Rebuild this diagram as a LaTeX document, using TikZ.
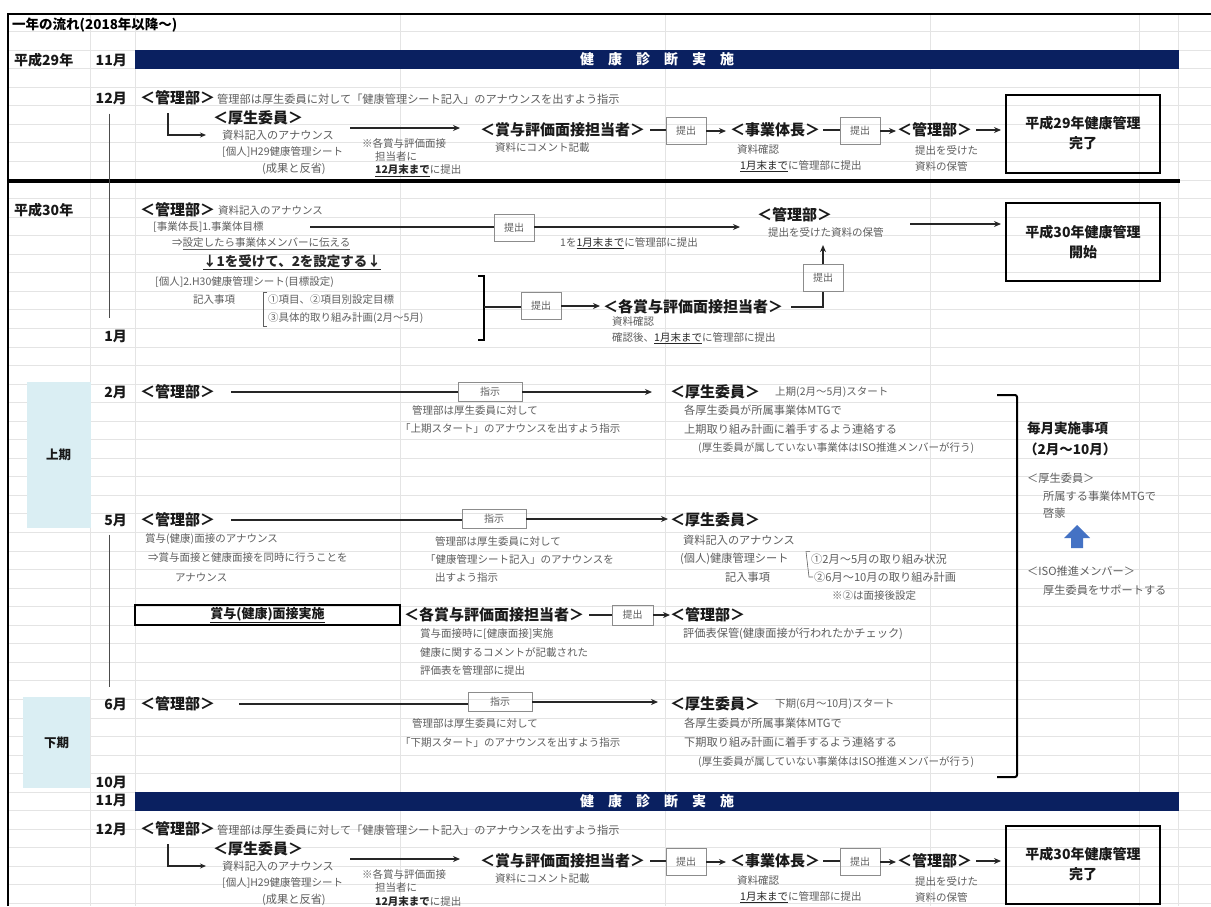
\documentclass[tikz,border=0pt]{standalone}
\usepackage{fontspec}
\setmainfont{Noto Sans CJK JP}
\usetikzlibrary{arrows.meta,calc}
\definecolor{navy}{HTML}{0A2060}
\definecolor{lblue}{HTML}{DAEEF3}
\definecolor{txtgray}{HTML}{5E5E5E}
\definecolor{boxgray}{HTML}{8C8C8C}
\definecolor{gridgray}{HTML}{E4E4E4}
\definecolor{arrblue}{HTML}{4472C4}
\newcommand\FLbl{\bfseries\fontsize{15}{17}\selectfont}
\newcommand\FGt{\fontsize{10.5}{12}\selectfont}
\newcommand\FGtL{\fontsize{11.2}{13}\selectfont}
\newcommand\FMon{\bfseries\fontsize{14}{16}\selectfont}
\newcommand\FBx{\fontsize{10}{12}\selectfont}
\newcommand\FEnd{\bfseries\fontsize{14}{20}\selectfont}
\newcommand\FBar{\bfseries\fontsize{14}{16}\selectfont}
\tikzset{
  lbl/.style={anchor=west, inner sep=0pt, font=\FLbl, text=black!90},
  gt/.style={anchor=west, inner sep=0pt, font=\FGt, text=txtgray},
  gtl/.style={gt, font=\FGtL},
  mon/.style={anchor=east, inner sep=0pt, font=\FMon, text=black!90},
  yr/.style={anchor=west, inner sep=0pt, font=\FMon, text=black!90},
  subbox/.style={draw=boxgray, line width=0.8pt, text=txtgray, font=\FBx, minimum width=40pt, minimum height=27pt, inner sep=0pt},
  instbox/.style={subbox, minimum width=64pt, minimum height=19pt},
  endbox/.style={draw=black, line width=2pt, font=\FEnd, align=center, minimum width=154pt, minimum height=78pt, inner sep=0pt, text=black!90},
  bar/.style={fill=navy, text=white, font=\FBar, minimum width=1044pt, minimum height=19pt, inner sep=0pt},
  arr/.style={-{Stealth[length=7pt,width=6pt]}, line width=1.1pt, black!85},
  conn/.style={line width=1.1pt, black!85},
  tline/.style={line width=0.8pt, black!70},
  period/.style={fill=lblue, inner sep=0pt, font=\bfseries\fontsize{12.5}{14}\selectfont, text=black!90}
}
\newcommand\DecBlock[3]{%
\begin{scope}[shift={(0,#2)}]
\node[mon] (#1m12) at (127,98) {12月};
\node[lbl] (#1km) at (140,98) {＜管理部＞};
\node[gtl] (#1kmt) at (217,99) {管理部は厚生委員に対して「健康管理シート記入」のアナウンスを出すよう指示};
\node[lbl] (#1ks) at (213,118) {＜厚生委員＞};
\node[gtl] (#1ksa) at (222,135) {資料記入のアナウンス};
\node[gt] (#1ksb) at (222,152) {[個人]H29健康管理シート};
\node[gtl] (#1ksc) at (262,169) {(成果と反省)};
\draw[conn, -{Stealth[length=6pt,width=5pt]}] ([xshift=28pt,yshift=-8pt]#1km.south west) |- ([xshift=-16pt]#1ksa.west);
\coordinate (#1as) at (350,128);
\node[lbl] (#1sh) at (480,130) {＜賞与評価面接担当者＞};
\draw[arr, shorten >=20pt] (#1as) -- (#1as -| #1sh.west);
\node[gt] (#1n1) at (362,143) {※各賞与評価面接};
\node[gt] (#1n2) at (375,157) {担当者に};
\node[gt] (#1n3) at (375,171) {{\color{black!85}\bfseries\underline{12月末まで}}に提出};
\node[gt] (#1sht) at (495,148) {資料にコメント記載};
\node[subbox] (#1t1) at (686,131) {提出};
\draw[conn, shorten <=5pt] (#1sh.east) -- (#1sh.east -| #1t1.west);
\node[lbl] (#1jg) at (730,130) {＜事業体長＞};
\draw[arr, shorten >=4pt] (#1t1.east) -- (#1t1.east -| #1jg.west);
\node[gt] (#1jga) at (737,150) {資料確認};
\node[gt] (#1jgb) at (740,166) {{\color{black!85}\underline{1月末まで}}に管理部に提出};
\node[subbox] (#1t2) at (860,131) {提出};
\draw[conn, shorten <=3pt] (#1jg.east) -- (#1jg.east -| #1t2.west);
\node[lbl] (#1kb) at (897,130) {＜管理部＞};
\draw[arr, shorten >=1pt] (#1t2.east) -- (#1t2.east -| #1kb.west);
\node[gt] (#1kba) at (915,150) {提出を受けた};
\node[gt] (#1kbb) at (915,166) {資料の保管};
\node[endbox] (#1end) at (1083,133.5) {#3};
\draw[arr, shorten <=4pt, shorten >=4pt] (#1kb.east) -- (#1kb.east -| #1end.west);
\end{scope}}
\begin{document}
\begin{tikzpicture}[x=1pt,y=-1pt]
\useasboundingbox (0,0) rectangle (1211,906);
\fill[white] (0,0) rectangle (1211,906);
% spreadsheet grid
\foreach \k in {0,...,47} {\draw[gridgray, line width=0.6pt] (8,{31.45+18.55*\k}) -- (1211,{31.45+18.55*\k});}
\foreach \gx in {90,135,400,665,930,1139,1178} {\draw[gridgray, line width=0.6pt] (\gx,14) -- (\gx,906);}
% frame
\draw[line width=1.6pt] (8,906) -- (8,14) -- (1211,14);
\node[anchor=west, inner sep=0pt, font=\bfseries\fontsize{13.5}{15}\selectfont] (title) at (12,25) {一年の流れ(2018年以降～)};

% ---- H29 ----
\node[yr] (y29) at (14,60) {平成29年};
\node[mon] (m11a) at (127,60) {11月};
\node[bar] (bar1) at (657,59.5) {健　康　診　断　実　施};
\DecBlock{A}{0}{平成29年健康管理\\完了}
\draw[line width=4pt] (8,181) -- (1180,181);

% ---- H30 ----
\node[yr] (y30) at (14,210) {平成30年};
\node[lbl] (km3) at (140,210) {＜管理部＞};
\node[gt] (km3t) at (218,211) {資料記入のアナウンス};
\node[gt] (jt1) at (153,227) {[事業体長]1.事業体目標};
\coordinate (l3s) at (310,227);
\node[subbox] (t3) at (514,228) {提出};
\draw[conn] (l3s) -- (l3s -| t3.west);
\node[lbl] (km4) at (757,215) {＜管理部＞};
\node[gt] (km4t) at (768,232) {提出を受けた資料の保管};
\draw[arr, shorten >=17pt] (t3.east |- l3s) -- (l3s -| km4.west);
\node[gt] (n1m) at (560,243) {1を{\color{black!85}\underline{1月末まで}}に管理部に提出};
\node[endbox] (e2) at (1083,242) {平成30年健康管理\\開始};
\coordinate (l4s) at (910,224);
\draw[arr, shorten >=4pt] (l4s) -- (l4s -| e2.west);
\node[gt] (jt2) at (172,244) {⇒\underline{設定したら事業体メンバーに伝える}};
\node[anchor=west, inner sep=0pt, font=\bfseries\fontsize{13.5}{15}\selectfont, text=black!85] (jt3) at (203,262) {\underline{↓1を受けて、2を設定する↓}};
\node[gt] (jt4) at (155,282) {[個人]2.H30健康管理シート(目標設定)};
\node[gt] (jt5) at (193,300) {記入事項};
\node[gt] (jt6) at (268,300) {①項目、②項目別設定目標};
\node[gt] (jt7) at (268,318) {③具体的取り組み計画(2月～5月)};
\draw[txtgray, line width=0.6pt] ([xshift=-1pt,yshift=3pt]jt6.north west) -- ++(-4,0) |- ([xshift=-1pt,yshift=-3pt]jt7.south west);
\draw[line width=1.6pt] (478,276) -- (484,276) -- (484,340) -- (478,340);
\coordinate (brk) at (484,307);
\node[subbox] (t4) at (541,306) {提出};
\draw[conn] (brk) -- (brk -| t4.west);
\node[lbl] (kh1) at (603,307) {＜各賞与評価面接担当者＞};
\draw[arr, shorten >=3pt] (t4.east) -- (t4.east -| kh1.west);
\node[subbox] (t5) at (823,278) {提出};
\draw[conn, shorten <=8pt] (kh1.east) -| (t5.south);
\draw[arr, shorten >=8pt] (t5.north) -- (t5.north |- km4t.south);
\node[gt] (kh1a) at (612,322) {資料確認};
\node[gt] (kh1b) at (612,338) {確認後、{\color{black!85}\underline{1月末まで}}に管理部に提出};
\node[mon] (m1) at (127,336) {1月};
\coordinate (tlx) at (109,0);
\draw[tline] ([yshift=-9pt]Am12.south -| tlx) -- ([yshift=11pt]m1.north -| tlx);

% ---- periods ----
\node[period, minimum width=64pt, minimum height=146pt] (kamiki) at (58.5,455) {上期};
\node[period, minimum width=67pt, minimum height=91pt] (shimoki) at (56.5,742.5) {下期};

% ---- 2月 ----
\node[mon] (m2) at (127,392) {2月};
\node[lbl] (km5) at (140,392) {＜管理部＞};
\node[instbox] (s1) at (490,392) {指示};
\draw[conn, shorten <=16pt] (km5.east) -- (s1.west);
\node[lbl] (ks5) at (670,392) {＜厚生委員＞};
\draw[arr, shorten >=18pt] (s1.east) -- (ks5.west);
\node[gt] (ks5s) at (775,392) {上期(2月～5月)スタート};
\node[gt] (f2a) at (412,410) {管理部は厚生委員に対して};
\node[gt] (f2b) at (400,429) {「上期スタート」のアナウンスを出すよう指示};
\node[gtl] (g2a) at (684,410) {各厚生委員が所属事業体MTGで};
\node[gtl] (g2b) at (684,429) {上期取り組み計画に着手するよう連絡する};
\node[gt] (g2c) at (698,448) {(厚生委員が属していない事業体はISO推進メンバーが行う)};

% ---- big bracket & monthly items ----
\draw[line width=2pt, rounded corners=2pt] (997,395) -- (1017,395) -- (1017,777) -- (997,777);
\node[anchor=west, inner sep=0pt, font=\bfseries\fontsize{13.5}{15}\selectfont, text=black!90] (mt1) at (1027,428) {毎月実施事項};
\node[anchor=west, inner sep=0pt, font=\bfseries\fontsize{13.5}{15}\selectfont, text=black!90] (mt2) at (1024,449) {（2月～10月）};
\node[gtl] (mt3) at (1027,478) {＜厚生委員＞};
\node[gtl] (mt4) at (1043,496) {所属する事業体MTGで};
\node[gtl] (mt5) at (1043,513) {啓蒙};
\fill[arrblue] (1064,538) -- (1077,525) -- (1090,538) -- (1083,538) -- (1083,548) -- (1071,548) -- (1071,538) -- cycle;
\node[gtl] (mt6) at (1027,571) {＜ISO推進メンバー＞};
\node[gtl] (mt7) at (1043,590) {厚生委員をサポートする};

% ---- 5月 ----
\node[mon] (m5) at (127,520) {5月};
\node[lbl] (km6) at (140,520) {＜管理部＞};
\node[instbox] (s2) at (494,519) {指示};
\draw[conn, shorten <=16pt] (km6.east) -- (km6.east -| s2.west);
\node[lbl] (ks6) at (670,520) {＜厚生委員＞};
\draw[arr, shorten >=2pt] (s2.east) -- (s2.east -| ks6.west);
\node[gt] (f5a) at (145,539) {賞与(健康)面接のアナウンス};
\node[gt] (f5b) at (148,558) {⇒賞与面接と健康面接を同時に行うことを};
\node[gt] (f5c) at (175,577) {アナウンス};
\node[gt] (f5d) at (435,541) {管理部は厚生委員に対して};
\node[gt] (f5e) at (425,559) {「健康管理シート記入」のアナウンスを};
\node[gt] (f5f) at (435,577) {出すよう指示};
\node[gtl] (g5a) at (683,540) {資料記入のアナウンス};
\node[gtl] (g5b) at (680,559) {(個人)健康管理シート};
\node[gtl] (g5c) at (725,577) {記入事項};
\node[gtl] (g5d) at (811,559) {①2月～5月の取り組み状況};
\node[gtl] (g5e) at (814,577) {②6月～10月の取り組み計画};
\node[gt] (g5f) at (832,595) {※②は面接後設定};
\draw[txtgray, line width=0.6pt] ([xshift=-1pt,yshift=2pt]g5d.north west) -- ++(-4,0) -- ([xshift=-5pt]g5e.west) -- ([xshift=-1pt]g5e.west);

\node[draw, line width=1.5pt, minimum width=265pt, minimum height=20pt, inner sep=0pt, font=\bfseries\fontsize{13}{15}\selectfont, text=black!90] (mj) at (267.5,615) {\underline{賞与(健康)面接実施}};
\node[lbl] (kh2) at (404,615) {＜各賞与評価面接担当者＞};
\node[subbox, minimum height=20pt, minimum width=41pt] (t6) at (632.5,615) {提出};
\draw[conn, shorten <=5pt] (kh2.east) -- (t6.west);
\node[lbl] (km7) at (670,615) {＜管理部＞};
\draw[arr] (t6.east) -- (km7.west);
\node[gt] (f6a) at (420,634) {賞与面接時に[健康面接]実施};
\node[gt] (f6b) at (420,652) {健康に関するコメントが記載された};
\node[gt] (f6c) at (420,670) {評価表を管理部に提出};
\node[gtl] (g6a) at (683,634) {評価表保管(健康面接が行われたかチェック)};

% ---- 6月 ----
\node[mon] (m6) at (127,704) {6月};
\draw[tline] ([yshift=-8pt]m5.south -| tlx) -- ([yshift=10pt]m6.north -| tlx);
\node[lbl] (km8) at (140,704) {＜管理部＞};
\node[instbox] (s3) at (500,702) {指示};
\draw[conn, shorten <=24pt] (km8.east) -- (km8.east -| s3.west);
\node[lbl] (ks8) at (670,704) {＜厚生委員＞};
\draw[arr, shorten >=12pt] (s3.east) -- (s3.east -| ks8.west);
\node[gt] (ks8s) at (775,704) {下期(6月～10月)スタート};
\node[gt] (f7a) at (412,723) {管理部は厚生委員に対して};
\node[gt] (f7b) at (400,742) {「下期スタート」のアナウンスを出すよう指示};
\node[gtl] (g7a) at (684,723) {各厚生委員が所属事業体MTGで};
\node[gtl] (g7b) at (684,742) {下期取り組み計画に着手するよう連絡する};
\node[gt] (g7c) at (698,762) {(厚生委員が属していない事業体はISO推進メンバーが行う)};

% ---- 10月 / 11月 ----
\node[mon] (m10) at (127,782) {10月};
\node[mon] (m11b) at (127,800) {11月};
\node[bar] (bar2) at (657,801) {健　康　診　断　実　施};
\DecBlock{B}{731}{平成30年健康管理\\完了}
\end{tikzpicture}
\end{document}
